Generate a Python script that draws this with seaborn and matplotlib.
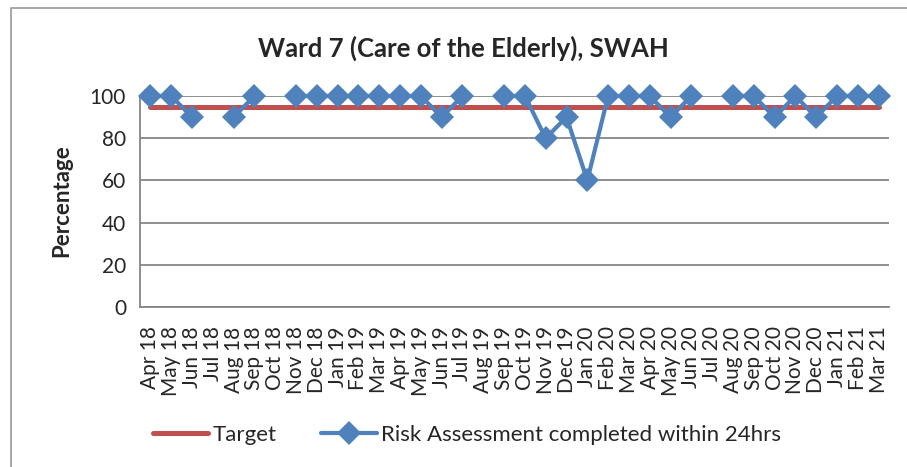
import numpy as np
import pandas as pd
import matplotlib.pyplot as plt
from matplotlib.lines import Line2D
import seaborn as sns

# --- DATA ---
months = ["Apr 18", "May 18", "Jun 18", "Jul 18", "Aug 18", "Sep 18", "Oct 18", "Nov 18",
          "Dec 18", "Jan 19", "Feb 19", "Mar 19", "Apr 19", "May 19", "Jun 19", "Jul 19",
          "Aug 19", "Sep 19", "Oct 19", "Nov 19", "Dec 19", "Jan 20", "Feb 20", "Mar 20",
          "Apr 20", "May 20", "Jun 20", "Jul 20", "Aug 20", "Sep 20", "Oct 20", "Nov 20",
          "Dec 20", "Jan 21", "Feb 21", "Mar 21"]
risk_assessment = [100, 100, 90, np.nan, 90, 100, np.nan, 100,
                   100, 100, 100, 100, 100, 100, 90, 100,
                   np.nan, 100, 100, 80, 90, 60, 100, 100,
                   100, 90, 100, np.nan, 100, 100, 90, 100,
                   90, 100, 100, 100]
target = [95] * len(months)

BLUE = "#4F81BD"
RED = "#C0504D"
GRID = "#868686"

df = pd.DataFrame({"pos": np.arange(len(months)), "month": months,
                   "risk": risk_assessment, "target": target})
# split the series at missing months so the line breaks there
df["segment"] = df["risk"].isna().cumsum()
risk_df = df.dropna(subset=["risk"])

sns.set_style("white")
plt.rcParams["font.family"] = ["Lato", "DejaVu Sans"]

fig = plt.figure(figsize=(9.07, 4.67), dpi=100)
ax = fig.add_axes([140 / 907, 1 - 307 / 467, (889 - 140) / 907, (307 - 96) / 467])

sns.lineplot(data=df, x="pos", y="target", ax=ax, color=RED, linewidth=3.6,
             solid_capstyle="round", legend=False, zorder=3)
sns.lineplot(data=risk_df, x="pos", y="risk", units="segment", estimator=None, ax=ax,
             color=BLUE, linewidth=3.0, marker="D", markersize=12, markeredgewidth=0,
             legend=False, zorder=4, clip_on=False)

ax.set_xlim(-0.5, len(months) - 0.5)
ax.set_ylim(0, 100)
ax.set_yticks(range(0, 101, 20))
ax.yaxis.grid(True, color=GRID, linewidth=1.3)
ax.set_axisbelow(True)
ax.set_xticks(range(len(months)))
ax.set_xticklabels(months, rotation=90, fontsize=15)
ax.set_xticks(np.arange(-0.5, len(months)), minor=True)
ax.tick_params(axis="x", which="major", length=0, pad=14)
ax.tick_params(axis="x", which="minor", length=6, color=GRID, width=1.3, direction="out")
ax.tick_params(axis="y", length=6, color=GRID, width=1.3, direction="out", labelsize=15, pad=4)
for side in ["top", "right"]:
    ax.spines[side].set_visible(False)
for side in ["left", "bottom"]:
    ax.spines[side].set_color(GRID)
    ax.spines[side].set_linewidth(1.3)
ax.set_xlabel("")
ax.set_ylabel("")
fig.text(62 / 907, 1 - 201 / 467, "Percentage", rotation=90, ha="center", va="center",
         fontsize=16, fontweight="bold")

fig.text(463 / 907, 1 - 48 / 467, "Ward 7 (Care of the Elderly), SWAH", ha="center",
         va="center", fontsize=18.5, fontweight="bold")

handles = [Line2D([], [], color=RED, linewidth=3.6, solid_capstyle="round"),
           Line2D([], [], color=BLUE, linewidth=3.0, marker="D", markersize=12,
                  markeredgewidth=0)]
fig.legend(handles, ["Target", "Risk Assessment completed within 24hrs"], loc="center",
           bbox_to_anchor=(467 / 907, 1 - 435 / 467), ncol=2, frameon=False,
           fontsize=16, handlelength=2.5, handletextpad=0.2, columnspacing=2.0)

# outer chart border (only top and left edges are visible in the crop)
fig.add_artist(Line2D([11 / 907, 11 / 907, 1], [0, 1 - 8 / 467, 1 - 8 / 467],
                      transform=fig.transFigure, color="#A0A0A0", linewidth=1.3))

fig.savefig("out.png", dpi=100)
